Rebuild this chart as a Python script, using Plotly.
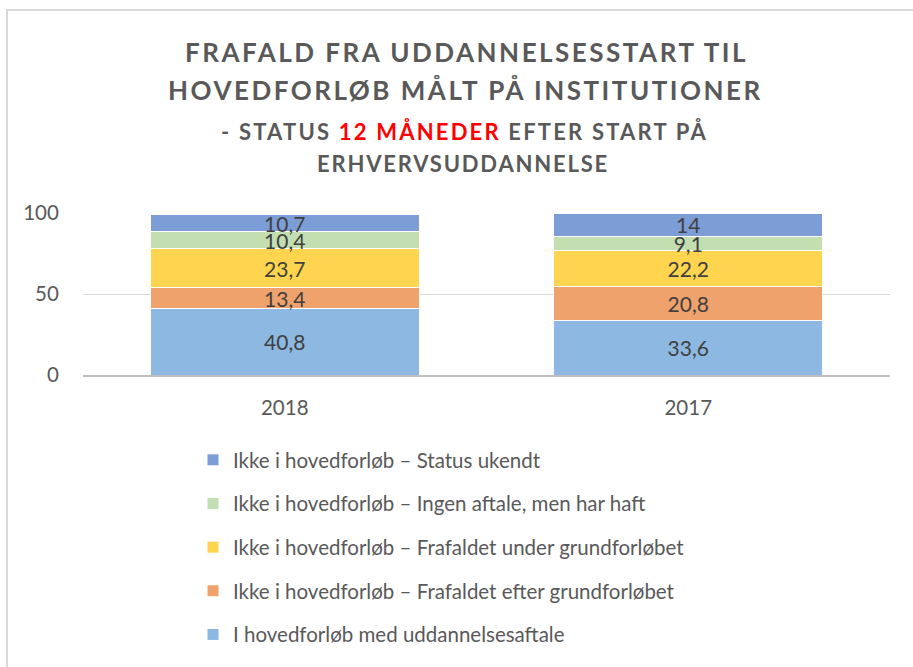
import plotly.graph_objects as go

years = ["2018", "2017"]
series_names = [
    "I hovedforløb med uddannelsesaftale",
    "Ikke i hovedforløb – Frafaldet efter grundforløbet",
    "Ikke i hovedforløb – Frafaldet under grundforløbet",
    "Ikke i hovedforløb – Ingen aftale, men har haft",
    "Ikke i hovedforløb – Status ukendt",
]
hovedforloeb = [40.8, 33.6]
frafald_efter = [13.4, 20.8]
frafald_under = [23.7, 22.2]
ingen_aftale = [10.4, 9.1]
status_ukendt = [10.7, 14]
series_values = [hovedforloeb, frafald_efter, frafald_under, ingen_aftale, status_ukendt]
colors = ["#8CB8E1", "#F0A26D", "#FFD44E", "#C3DFB1", "#7C9DD5"]
yticks = [0, 50, 100]

FONT = "Lato"
GRAY = "#595959"

fig = go.Figure()
n = len(series_names)
for i, (name, vals, col) in enumerate(zip(series_names, series_values, colors)):
    fig.add_trace(go.Bar(
        x=years, y=vals, name=name, legendgroup=f"g{i}", legendrank=n - i,
        marker=dict(color=col, line=dict(color="white", width=1)),
        text=[f"{v:g}".replace(".", ",") for v in vals],
        textposition="inside", insidetextanchor="middle", textangle=0,
        textfont=dict(family=FONT, size=21, color="#404040"),
        constraintext="none", cliponaxis=False,
    ))

L, R, T, B = 83, 23, 213, 292
W, H = 913, 667
pw, ph = W - L - R, H - T - B
def px_x(x):
    return (x - L) / pw
def px_y(y):
    return (H - B - y) / ph

annotations = []
title_lines = [
    ("FRAFALD FRA UDDANNELSESSTART TIL", 52, 26, 2.5, 466),
    ("HOVEDFORLØB MÅLT PÅ INSTITUTIONER", 90, 26, 2.5, 465),
    ("- STATUS <span style='color:#FF0000'>12 MÅNEDER</span> EFTER START PÅ", 131, 22, 2.2, 464),
    ("ERHVERVSUDDANNELSE", 163, 22, 1.8, 463),
]
for txt, yy, fs, ls, xc in title_lines:
    annotations.append(dict(
        text=f"<span style='letter-spacing:{ls}px'><b>{txt}</b></span>",
        x=px_x(xc), y=px_y(yy), xref="paper", yref="paper",
        xanchor="center", yanchor="middle", showarrow=False,
        font=dict(family=FONT, size=fs, color=GRAY),
    ))

fig.update_layout(
    width=W, height=H,
    margin=dict(l=L, r=R, t=T, b=B, autoexpand=False),
    barmode="stack", bargap=0.333,
    plot_bgcolor="white", paper_bgcolor="white",
    font=dict(family=FONT, color=GRAY),
    annotations=annotations,
    showlegend=True,
    legend=dict(
        orientation="v", traceorder="grouped", tracegroupgap=14,
        x=px_x(193), y=px_y(440), xanchor="left", yanchor="top",
        font=dict(family=FONT, size=20.5, color=GRAY),
        bgcolor="rgba(0,0,0,0)",
    ),
    xaxis=dict(
        showgrid=False, showline=True, linecolor="#BFBFBF", linewidth=1.5,
        ticks="outside", ticklen=14, tickcolor="rgba(0,0,0,0)",
        tickfont=dict(family=FONT, size=20.5, color=GRAY),
        automargin=False,
    ),
    yaxis=dict(
        range=[0, 100], tickvals=yticks, showgrid=True, gridcolor="#D9D9D9",
        zeroline=False, showline=False, ticks="outside", ticklen=19,
        tickcolor="rgba(0,0,0,0)",
        tickfont=dict(family=FONT, size=20.5, color=GRAY),
        automargin=False,
    ),
    shapes=[dict(
        type="path", xref="paper", yref="paper",
        path=f"M {px_x(7)},{px_y(H+5)} L {px_x(7)},{px_y(10)} L {px_x(W+5)},{px_y(10)}",
        line=dict(color="#D9D9D9", width=2),
    )],
)

fig.write_html("out.html", config={"displayModeBar": False},
               post_script="document.body.style.margin='0px';")
